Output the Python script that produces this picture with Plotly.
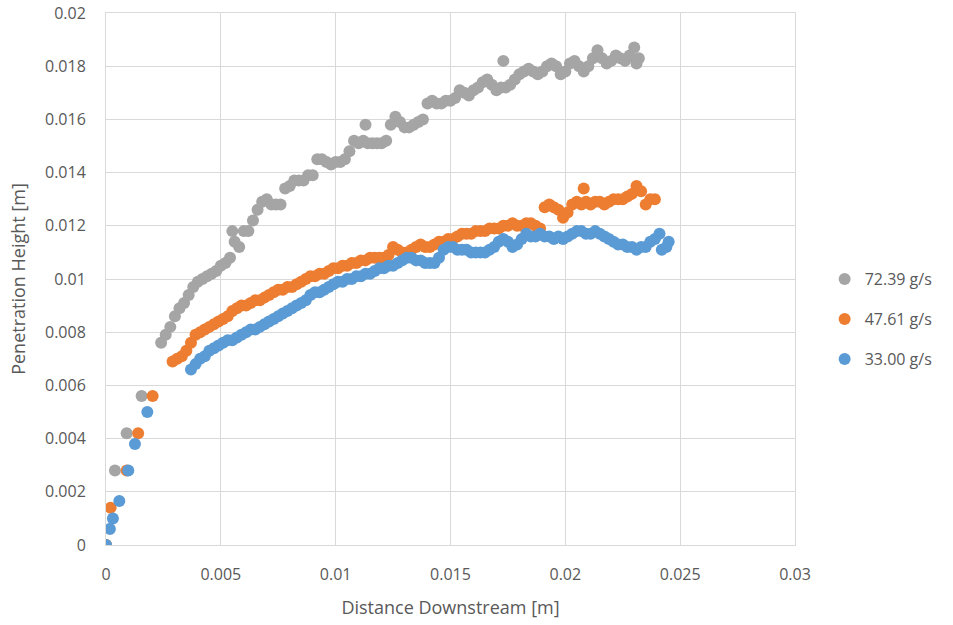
import plotly.graph_objects as go

# ---- data ----
gray_x = [0.0, 0.00039, 0.0009, 0.00155,
          0.0024, 0.0026, 0.0028, 0.0030, 0.0032, 0.0034, 0.0036, 0.0038, 0.0040, 0.0042,
          0.0044, 0.0046, 0.0048, 0.0050, 0.0052, 0.0054, 0.0055, 0.0056, 0.0058, 0.0060,
          0.0062, 0.0064, 0.0066, 0.0068, 0.0070, 0.0072, 0.0074, 0.0076, 0.0078, 0.0080,
          0.0082, 0.0084, 0.0086, 0.0088, 0.0090, 0.0092, 0.0094, 0.0096, 0.0098, 0.0100,
          0.0102, 0.0104, 0.0106, 0.0108, 0.0110, 0.0112, 0.0113, 0.0114, 0.0116, 0.0118,
          0.0120, 0.0122, 0.0124, 0.0126, 0.0128, 0.0130, 0.0132, 0.0134, 0.0136, 0.0138,
          0.0140, 0.0142, 0.0144, 0.0146, 0.0148, 0.0150, 0.0152, 0.0154, 0.0156, 0.0158,
          0.0160, 0.0162, 0.0164, 0.0166, 0.0168, 0.0170, 0.0172, 0.0173, 0.0174, 0.0176,
          0.0178, 0.0180, 0.0182, 0.0184, 0.0186, 0.0188, 0.0190, 0.0192, 0.0194, 0.0196,
          0.0198, 0.0200, 0.0202, 0.0204, 0.0206, 0.0208, 0.0210, 0.0212, 0.0214, 0.0216,
          0.0218, 0.0220, 0.0222, 0.0224, 0.0226, 0.0228, 0.0230, 0.0231, 0.0232]
gray_y = [0.0, 0.0028, 0.0042, 0.0056,
          0.0076, 0.0079, 0.0082, 0.0086, 0.0089, 0.0091, 0.0094, 0.0097, 0.0099, 0.0100,
          0.0101, 0.0102, 0.0103, 0.0105, 0.0106, 0.0108, 0.0118, 0.0114, 0.0112, 0.0118,
          0.0118, 0.0122, 0.0126, 0.0129, 0.0130, 0.0128, 0.0128, 0.0128, 0.0134, 0.0135,
          0.0137, 0.0137, 0.0137, 0.0139, 0.0139, 0.0145, 0.0145, 0.0144, 0.0143, 0.0144,
          0.0144, 0.0145, 0.0148, 0.0152, 0.0151, 0.0152, 0.0158, 0.0151, 0.0151, 0.0151,
          0.0151, 0.0152, 0.0158, 0.0161, 0.0159, 0.0157, 0.0157, 0.0158, 0.0159, 0.0160,
          0.0166, 0.0167, 0.0166, 0.0166, 0.0167, 0.0167, 0.0168, 0.0171, 0.0170, 0.0169,
          0.0171, 0.0172, 0.0174, 0.0175, 0.0173, 0.0171, 0.0172, 0.0182, 0.0172, 0.0173,
          0.0175, 0.0177, 0.0178, 0.0179, 0.0178, 0.0177, 0.0178, 0.0180, 0.0181, 0.0180,
          0.0177, 0.0178, 0.0181, 0.0182, 0.0180, 0.0178, 0.0180, 0.0183, 0.0186, 0.0183,
          0.0181, 0.0182, 0.0184, 0.0183, 0.0182, 0.0184, 0.0187, 0.0181, 0.0183]

orange_x = [0.0, 0.0002, 0.0009, 0.0014, 0.00203,
            0.0029, 0.0031, 0.0033, 0.0035, 0.0037, 0.0039, 0.0041, 0.0043, 0.0045, 0.0047,
            0.0049, 0.0051, 0.0053, 0.0055, 0.0057, 0.0059, 0.0061, 0.0063, 0.0065, 0.0067,
            0.0069, 0.0071, 0.0073, 0.0075, 0.0077, 0.0079, 0.0081, 0.0083, 0.0085, 0.0087,
            0.0089, 0.0091, 0.0093, 0.0095, 0.0097, 0.0099, 0.0101, 0.0103, 0.0105, 0.0107,
            0.0109, 0.0111, 0.0113, 0.0115, 0.0117, 0.0119, 0.0121, 0.0123, 0.0125, 0.0127,
            0.0129, 0.0131, 0.0133, 0.0135, 0.0137, 0.0139, 0.0141, 0.0143, 0.0145, 0.0147,
            0.0149, 0.0151, 0.0153, 0.0155, 0.0157, 0.0159, 0.0161, 0.0163, 0.0165, 0.0167,
            0.0169, 0.0171, 0.0173, 0.0175, 0.0177, 0.0179, 0.0181, 0.0183, 0.0185, 0.0187,
            0.0189, 0.0191, 0.0193, 0.0195, 0.0197, 0.0199, 0.0201, 0.0203, 0.0205, 0.0207,
            0.0208, 0.0209, 0.0211, 0.0213, 0.0215, 0.0217, 0.0219, 0.0221, 0.0223, 0.0225,
            0.0227, 0.0229, 0.0231, 0.0233, 0.0235, 0.0237, 0.0239]
orange_y = [0.0, 0.0014, 0.0028, 0.0042, 0.0056,
            0.0069, 0.0070, 0.0071, 0.0073, 0.0076, 0.0079, 0.0080, 0.0081, 0.0082, 0.0083,
            0.0084, 0.0085, 0.0086, 0.0088, 0.0089, 0.0090, 0.0090, 0.0091, 0.0092, 0.0092,
            0.0093, 0.0094, 0.0095, 0.0096, 0.0096, 0.0097, 0.0097, 0.0098, 0.0099, 0.0100,
            0.0101, 0.0101, 0.0102, 0.0102, 0.0103, 0.0104, 0.0104, 0.0105, 0.0105, 0.0106,
            0.0106, 0.0107, 0.0107, 0.0108, 0.0108, 0.0108, 0.0108, 0.0109, 0.0112, 0.0111,
            0.0110, 0.0110, 0.0111, 0.0112, 0.0113, 0.0112, 0.0112, 0.0113, 0.0114, 0.0114,
            0.0115, 0.0115, 0.0116, 0.0117, 0.0117, 0.0117, 0.0118, 0.0118, 0.0118, 0.0119,
            0.0119, 0.0119, 0.0120, 0.0120, 0.0121, 0.0120, 0.0120, 0.0121, 0.0121, 0.0120,
            0.0119, 0.0127, 0.0128, 0.0127, 0.0126, 0.0123, 0.0125, 0.0128, 0.0129, 0.0128,
            0.0134, 0.0129, 0.0128, 0.0129, 0.0129, 0.0128, 0.0129, 0.0130, 0.0130, 0.0130,
            0.0131, 0.0132, 0.0135, 0.0133, 0.0128, 0.0130, 0.0130]

blue_x = [0.0, 0.00017, 0.0003, 0.00058, 0.00097, 0.00126, 0.0018,
          0.0037, 0.0039, 0.0041, 0.0043, 0.0045, 0.0047, 0.0049, 0.0051, 0.0053, 0.0055,
          0.0057, 0.0059, 0.0061, 0.0063, 0.0065, 0.0067, 0.0069, 0.0071, 0.0073, 0.0075,
          0.0077, 0.0079, 0.0081, 0.0083, 0.0085, 0.0087, 0.0089, 0.0091, 0.0093, 0.0095,
          0.0097, 0.0099, 0.0101, 0.0103, 0.0105, 0.0107, 0.0109, 0.0111, 0.0113, 0.0115,
          0.0117, 0.0119, 0.0121, 0.0123, 0.0125, 0.0127, 0.0129, 0.0131, 0.0133, 0.0135,
          0.0137, 0.0139, 0.0141, 0.0143, 0.0145, 0.0147, 0.0149, 0.0151, 0.0153, 0.0155,
          0.0157, 0.0159, 0.0161, 0.0163, 0.0165, 0.0167, 0.0169, 0.0171, 0.0173, 0.0175,
          0.0177, 0.0179, 0.0181, 0.0183, 0.0185, 0.0187, 0.0189, 0.0191, 0.0193, 0.0195,
          0.0197, 0.0199, 0.0201, 0.0203, 0.0205, 0.0207, 0.0209, 0.0211, 0.0213, 0.0215,
          0.0217, 0.0219, 0.0221, 0.0223, 0.0225, 0.0227, 0.0229, 0.0231, 0.0233, 0.0235,
          0.0237, 0.0239, 0.0241, 0.0242, 0.0244, 0.0245]
blue_y = [0.0, 0.0006, 0.0010, 0.00165, 0.0028, 0.0038, 0.0050,
          0.0066, 0.0068, 0.0070, 0.0071, 0.0073, 0.0074, 0.0075, 0.0076, 0.0077, 0.0077,
          0.0078, 0.0079, 0.0080, 0.0081, 0.0081, 0.0082, 0.0083, 0.0084, 0.0085, 0.0086,
          0.0087, 0.0088, 0.0089, 0.0090, 0.0091, 0.0092, 0.0094, 0.0095, 0.0095, 0.0096,
          0.0097, 0.0098, 0.0099, 0.0099, 0.0100, 0.0100, 0.0101, 0.0101, 0.0102, 0.0102,
          0.0103, 0.0104, 0.0104, 0.0105, 0.0105, 0.0106, 0.0107, 0.0108, 0.0108, 0.0107,
          0.0107, 0.0106, 0.0106, 0.0106, 0.0108, 0.0111, 0.0112, 0.0112, 0.0111, 0.0111,
          0.0111, 0.0110, 0.0110, 0.0110, 0.0110, 0.0111, 0.0112, 0.0114, 0.0115, 0.0114,
          0.0112, 0.0113, 0.0115, 0.0117, 0.0116, 0.0116, 0.0117, 0.0116, 0.0116, 0.0115,
          0.0116, 0.0115, 0.0116, 0.0117, 0.0118, 0.0118, 0.0117, 0.0117, 0.0118, 0.0117,
          0.0116, 0.0115, 0.0114, 0.0113, 0.0113, 0.0112, 0.0112, 0.0111, 0.0112, 0.0112,
          0.0114, 0.0115, 0.0117, 0.0111, 0.0112, 0.0114]

series_names = ["72.39 g/s", "47.61 g/s", "33.00 g/s"]
x_ticks = [0, 0.005, 0.01, 0.015, 0.02, 0.025, 0.03]
y_ticks = [0, 0.002, 0.004, 0.006, 0.008, 0.01, 0.012, 0.014, 0.016, 0.018, 0.02]

colors = ["#A5A5A5", "#ED7D31", "#5B9BD5"]
text_color = "#595959"
grid_color = "#D9D9D9"
font_family = "Open Sans, Noto Sans, sans-serif"

fig = go.Figure()
data = [(gray_x, gray_y), (orange_x, orange_y), (blue_x, blue_y)]
legends = ["legend", "legend2", "legend3"]
for (xs, ys), name, col, lg in zip(data, series_names, colors, legends):
    fig.add_trace(go.Scatter(
        x=xs, y=ys, mode="markers", name=name, legend=lg,
        marker=dict(color=col, size=12, line=dict(width=0)),
    ))

leg_common = dict(
    xanchor="left", yanchor="middle", bgcolor="rgba(0,0,0,0)",
    font=dict(family=font_family, size=16, color=text_color),
    itemwidth=30, itemsizing="constant",
)
fig.update_layout(
    width=953, height=625,
    margin=dict(l=106, r=158, t=13, b=80),
    paper_bgcolor="white", plot_bgcolor="white",
    font=dict(family=font_family, size=16, color=text_color),
    showlegend=True,
    legend=dict(x=1.043, y=0.500, **leg_common),
    legend2=dict(x=1.043, y=0.4248, **leg_common),
    legend3=dict(x=1.043, y=0.3496, **leg_common),
    xaxis=dict(
        range=[0, 0.03], tickvals=x_ticks, ticktext=[str(v) for v in x_ticks],
        showgrid=True, gridcolor=grid_color, gridwidth=1,
        zeroline=False, ticks="", automargin=False,
        tickfont=dict(size=16, color=text_color), ticklabelstandoff=15,
        title=dict(text="Distance Downstream [m]", font=dict(size=18, color=text_color), standoff=17),
    ),
    yaxis=dict(
        range=[0, 0.02], tickvals=y_ticks, ticktext=[str(v) for v in y_ticks],
        showgrid=True, gridcolor=grid_color, gridwidth=1,
        zeroline=False, ticks="", automargin=False,
        tickfont=dict(size=16, color=text_color), ticklabelstandoff=16,
        title=dict(text="Penetration Height [m]", font=dict(size=18, color=text_color), standoff=14),
    ),
)
# outer border lines of the plot area
fig.update_xaxes(mirror=True, showline=True, linecolor=grid_color, linewidth=1)
fig.update_yaxes(mirror=True, showline=True, linecolor=grid_color, linewidth=1)

fig.write_html("out.html")
